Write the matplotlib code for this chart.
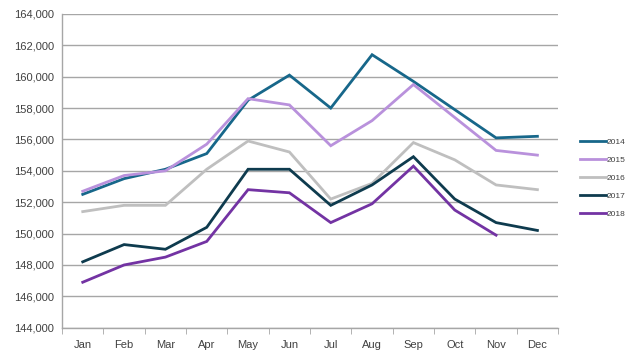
import matplotlib
matplotlib.use("Agg")
import matplotlib.pyplot as plt
from matplotlib.ticker import FuncFormatter, FixedLocator

months = ["Jan", "Feb", "Mar", "Apr", "May", "Jun", "Jul", "Aug", "Sep", "Oct", "Nov", "Dec"]
y2014 = [152500, 153500, 154100, 155100, 158500, 160100, 158000, 161400, 159700, 157900, 156100, 156200]
y2015 = [152700, 153700, 154000, 155700, 158600, 158200, 155600, 157200, 159500, 157400, 155300, 155000]
y2016 = [151400, 151800, 151800, 154100, 155900, 155200, 152200, 153200, 155800, 154700, 153100, 152800]
y2017 = [148200, 149300, 149000, 150400, 154100, 154100, 151800, 153100, 154900, 152200, 150700, 150200]
y2018 = [146900, 148000, 148500, 149500, 152800, 152600, 150700, 151900, 154300, 151500, 149900]
series_names = ["2014", "2015", "2016", "2017", "2018"]
colors = ["#17678A", "#B991DC", "#BFBFBF", "#0E3B4E", "#7333A3"]

plt.rcParams['font.family'] = ['Liberation Sans', 'DejaVu Sans']
fig = plt.figure(figsize=(6.4, 3.57), dpi=100)
ax = fig.add_axes([0.097, 0.082, 0.775, 0.879])

x = list(range(len(months)))
for name, vals, c in zip(series_names, [y2014, y2015, y2016, y2017, y2018], colors):
    ax.plot(x[:len(vals)], vals, color=c, lw=2.0, label=name, solid_joinstyle='miter')

ax.set_xlim(-0.5, 11.5)
ax.set_ylim(144000, 164000)
ax.set_yticks(range(144000, 164001, 2000))
ax.yaxis.set_major_formatter(FuncFormatter(lambda v, p: f"{int(v):,}"))
ax.set_xticks(x)
ax.set_xticklabels(months)
ax.xaxis.set_minor_locator(FixedLocator([i - 0.5 for i in range(13)]))
ax.tick_params(axis='x', which='major', length=0, pad=9, labelsize=8, colors='#404040')
ax.tick_params(axis='x', which='minor', length=4, color='#A6A6A6', direction='out')
ax.tick_params(axis='y', length=0, pad=6, labelsize=8, colors='#404040')
ax.grid(axis='y', color='#A6A6A6', lw=1.0)
ax.set_axisbelow(True)
for s in ['top', 'right']:
    ax.spines[s].set_visible(False)
for s in ['left', 'bottom']:
    ax.spines[s].set_color('#A6A6A6')
    ax.spines[s].set_linewidth(1.0)

leg = ax.legend(loc='center left', bbox_to_anchor=(1.037, 0.477), frameon=False,
                fontsize=6, handlelength=3.1, handletextpad=0.15, labelspacing=1.2,
                borderaxespad=0)
for t in leg.get_texts():
    t.set_color('#404040')

fig.savefig("out.png", dpi=100)
